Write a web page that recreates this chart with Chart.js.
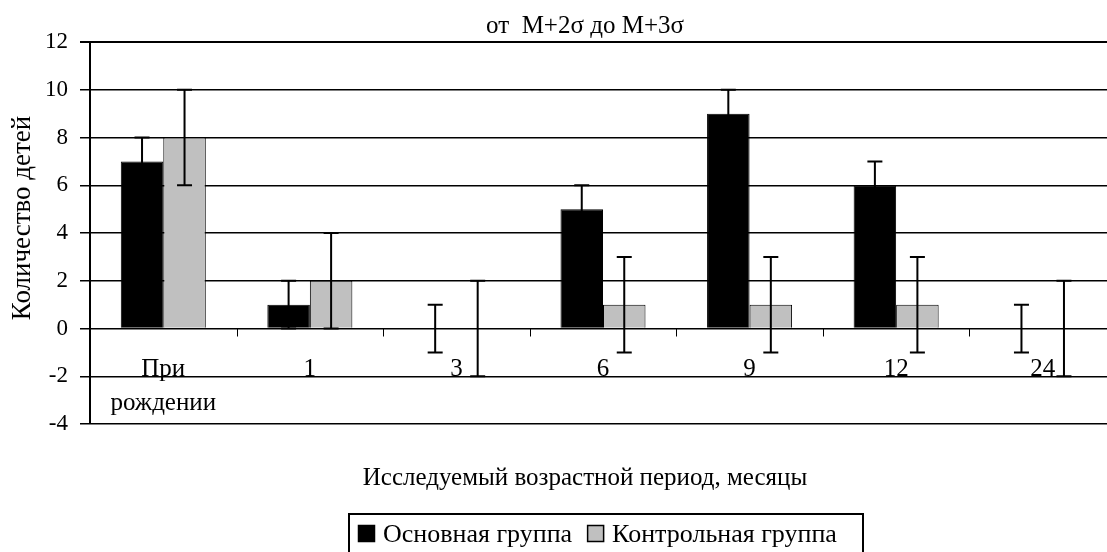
<!DOCTYPE html>
<html>
<head>
<meta charset="utf-8">
<script src="https://cdn.jsdelivr.net/npm/chart.js@4.4.1/dist/chart.umd.min.js"></script>
<style>
  html, body { margin: 0; padding: 0; background: #fff; overflow: hidden; }
  #wrap { width: 1125px; height: 552px; position: relative; }
</style>
</head>
<body>
<div id="wrap"><canvas id="graph"></canvas></div>
<script>
const categories = [['При', 'рождении'], '1', '3', '6', '9', '12', '24'];
const mainValues = [7, 1, 0, 5, 9, 6, 0];
const controlValues = [8, 2, 0, 1, 1, 1, 0];
const mainErrors = [1, 1, 1, 1, 1, 1, 1];
const controlErrors = [2, 2, 2, 2, 2, 2, 2];
const seriesNames = ['Основная группа', 'Контрольная группа'];
const chartTitle = 'от  M+2σ до M+3σ';
const xTitle = 'Исследуемый возрастной период, месяцы';
const yTitle = 'Количество детей';

const FONT = '"Liberation Serif", "Times New Roman", serif';

// whiskers for every bar
const errorBars = {
    id: 'errorBars',
    afterDatasetsDraw(chart) {
        const ctx = chart.ctx;
        const y = chart.scales.y;
        ctx.save();
        ctx.strokeStyle = '#000';
        ctx.lineWidth = 2;
        chart.data.datasets.forEach((ds, i) => {
            const meta = chart.getDatasetMeta(i);
            meta.data.forEach((bar, j) => {
                const v = ds.data[j], e = ds.errors[j];
                const top = y.getPixelForValue(v + e);
                const bot = y.getPixelForValue(v - e);
                ctx.beginPath();
                ctx.moveTo(bar.x, top); ctx.lineTo(bar.x, bot);
                ctx.moveTo(bar.x - 7.5, top); ctx.lineTo(bar.x + 7.5, top);
                ctx.moveTo(bar.x - 7.5, bot); ctx.lineTo(bar.x + 7.5, bot);
                ctx.stroke();
            });
        });
        ctx.restore();
    }
};

// category ticks, labels, titles and boxed legend
const decor = {
    id: 'decor',
    afterDraw(chart) {
        const ctx = chart.ctx;
        const x = chart.scales.x, y = chart.scales.y;
        const zero = y.getPixelForValue(0);
        const n = categories.length;
        const w = (x.right - x.left) / n;
        ctx.save();
        ctx.strokeStyle = '#000';
        ctx.lineWidth = 1;
        for (let k = 0; k <= n; k++) {
            const px = Math.round(x.left + k * w) + 0.5;
            ctx.beginPath();
            ctx.moveTo(px, zero); ctx.lineTo(px, zero + 8);
            ctx.stroke();
        }
        ctx.fillStyle = '#000';
        ctx.textAlign = 'center';
        ctx.textBaseline = 'alphabetic';
        ctx.font = '25px ' + FONT;
        categories.forEach((c, j) => {
            const lines = Array.isArray(c) ? c : [c];
            const cx = x.getPixelForValue(j);
            lines.forEach((t, l) => ctx.fillText(t, cx, zero + 47 + l * 34));
        });

        ctx.font = '25px ' + FONT;
        ctx.fillText(chartTitle, 585, 33);
        ctx.fillText(xTitle, 585, 485);

        // y axis title, rotated
        ctx.save();
        ctx.translate(30, 218);
        ctx.rotate(-Math.PI / 2);
        ctx.font = '27px ' + FONT;
        ctx.fillText(yTitle, 0, 0);
        ctx.restore();

        // legend
        ctx.font = '26px ' + FONT;
        ctx.textAlign = 'left';
        let lx = 358;
        const colors = [['#000', '#000'], ['#c0c0c0', '#000']];
        seriesNames.forEach((name, i) => {
            ctx.fillStyle = colors[i][0];
            ctx.fillRect(lx, 525, 17, 17);
            ctx.lineWidth = 1.5;
            ctx.strokeStyle = colors[i][1];
            ctx.strokeRect(lx + 0.5, 525.5, 16, 16);
            ctx.fillStyle = '#000';
            ctx.fillText(name, lx + 25, 542);
            lx += 25 + ctx.measureText(name).width + 15;
        });
        ctx.lineWidth = 2;
        ctx.strokeStyle = '#000';
        ctx.strokeRect(349, 514, 863 - 349, 60);
        ctx.restore();
    }
};

new Chart(document.querySelector('#graph'), {
    type: 'bar',
    data: {
        labels: categories,
        datasets: [
            { label: seriesNames[0], data: mainValues, errors: mainErrors,
              backgroundColor: '#000', borderColor: '#000', borderWidth: 1 },
            { label: seriesNames[1], data: controlValues, errors: controlErrors,
              backgroundColor: '#c0c0c0', borderColor: '#000', borderWidth: 1 }
        ]
    },
    options: {
        responsive: true,
        maintainAspectRatio: false,
        animation: false,
        layout: { padding: { top: 42, bottom: 128, right: 9, left: 0 } },
        plugins: { legend: { display: false }, title: { display: false }, tooltip: { enabled: false } },
        datasets: { bar: { categoryPercentage: 0.58, barPercentage: 1.0 } },
        scales: {
            x: { display: false },
            y: {
                min: -4, max: 12,
                afterFit(s) { s.width = 90; },
                ticks: { stepSize: 2, padding: 12, color: '#000', font: { family: FONT, size: 23 } },
                grid: {
                    color: '#000',
                    lineWidth: c => (c.tick && c.tick.value === 12 ? 2 : 1.5),
                    tickLength: 10
                },
                border: { display: true, color: '#000', width: 2 },
                title: { display: false }
            }
        }
    },
    plugins: [errorBars, decor]
});
</script>
</body>
</html>
